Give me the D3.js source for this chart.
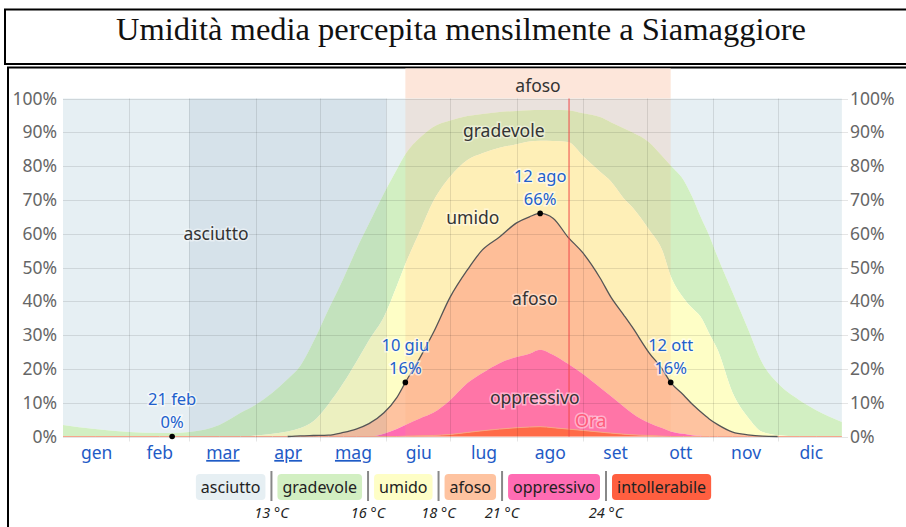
<!DOCTYPE html>
<html>
<head>
<meta charset="utf-8">
<script src="https://cdn.jsdelivr.net/npm/d3@7"></script>
<style>
  html, body { margin: 0; padding: 0; background: #fff; }
  svg { display: block; font-family: "Noto Sans", "Open Sans", sans-serif; }
</style>
</head>
<body>
<svg id="chart" width="906" height="527"></svg>
<script>
// ---- Calendar ----
const months = ["gen", "feb", "mar", "apr", "mag", "giu", "lug", "ago", "set", "ott", "nov", "dic"];
const monthStartDay = [0, 31, 59, 90, 120, 151, 181, 212, 243, 273, 304, 334, 365];
const linkedMonths = ["mar", "apr", "mag"];

// ---- Daily probability of each perceived-humidity class (%) ----
const days = [0, 15, 31, 45, 51, 59, 73, 83, 90, 98, 105, 111, 117, 124, 131, 137, 143, 150, 156, 160, 167, 173, 181, 189, 196, 204, 212, 218, 223, 229, 236, 243, 251, 256, 262, 266, 274, 280, 284, 290, 294, 298, 302, 306, 313, 320, 327, 334, 344, 352, 364];
const intollerabile = [0, 0, 0, 0, 0, 0, 0, 0, 0, 0, 0, 0, 0, 0, 0, 0, 0, 0, 0, 0.1, 0.2, 0.3, 0.6, 1.2, 1.7, 2.2, 2.6, 2.8, 2.9, 2.6, 2.2, 1.8, 1.3, 1.0, 0.7, 0.5, 0.3, 0.1, 0, 0, 0, 0, 0, 0, 0, 0, 0, 0, 0, 0, 0];
const oppressivo    = [0, 0, 0, 0, 0, 0, 0, 0, 0, 0, 0, 0, 0, 0, 0, 0, 0, 0.8, 2.2, 3.3, 5.2, 6.7, 10.2, 14.6, 17.1, 19.5, 20.9, 21.7, 22.8, 21.6, 19.3, 16.7, 13.2, 11.0, 8.2, 6.4, 3.7, 2.4, 1.5, 0.8, 0.4, 0.2, 0, 0, 0, 0, 0, 0, 0, 0, 0];
const afoso         = [0, 0, 0, 0, 0, 0, 0, 0, 0, 0, 0, 0.2, 0.3, 0.4, 1.2, 2.2, 3.8, 6.2, 9.3, 12.6, 18.1, 23.6, 30.5, 33.5, 36.4, 37.3, 39.7, 40.5, 40.3, 40.4, 37.5, 35.8, 32.4, 29.3, 27.1, 25.5, 20.7, 17.5, 14.5, 11.5, 9.2, 7.1, 5.2, 3.5, 1.3, 0.5, 0.1, 0, 0, 0, 0];
const umido         = [0, 0, 0, 0, 0, 0, 0, 0, 0.3, 0.8, 1.5, 2.3, 4.2, 9.1, 14.6, 19.8, 24.7, 28.4, 33.0, 35.0, 37.5, 38.9, 35.6, 32.5, 28.6, 26.4, 23.3, 22.3, 21.5, 22.8, 28.1, 28.7, 31.4, 34.2, 34.5, 35.5, 36.4, 35.2, 31.5, 28.7, 28.4, 28.1, 25.3, 22.1, 11.6, 5.3, 1.2, 0.4, 0.1, 0, 0];
const gradevole     = [3.4, 2.2, 1.3, 1.0, 1.0, 1.3, 3.4, 7.0, 9.1, 12.2, 15.5, 18.5, 23.5, 28.0, 30.9, 33.2, 34.5, 36.6, 34.5, 32.5, 27.5, 22.1, 16.6, 13.0, 11.6, 10.6, 9.8, 9.2, 9.1, 9.2, 9.4, 12.6, 16.2, 17.5, 20.7, 22.1, 25.9, 27.8, 32.7, 34.9, 33.0, 29.6, 29.0, 27.4, 29.6, 26.2, 20.2, 15.4, 10.7, 7.8, 4.3];
const asciutto      = [96.6, 97.8, 98.7, 99.0, 99.0, 98.7, 96.6, 93.0, 90.6, 87.0, 83.0, 79.0, 72.0, 62.5, 53.3, 44.8, 37.0, 28.0, 21.0, 16.5, 11.5, 8.4, 6.5, 5.2, 4.6, 4.0, 3.7, 3.5, 3.4, 3.4, 3.5, 4.4, 5.5, 7.0, 8.8, 10.0, 13.0, 17.0, 19.8, 24.1, 29.0, 35.0, 40.5, 47.0, 57.5, 68.0, 78.5, 84.2, 89.2, 92.2, 95.7];

// Stack order (bottom to top) and legend order
const stackKeys = ["intollerabile", "oppressivo", "afoso", "umido", "gradevole", "asciutto"];
const legendKeys = ["asciutto", "gradevole", "umido", "afoso", "oppressivo", "intollerabile"];
const legendThresholds = ["13 °C", "16 °C", "18 °C", "21 °C", "24 °C"];
const colors = {
  asciutto: "#e6eff3",
  gradevole: "#d2efc2",
  umido: "#fefec6",
  afoso: "#fec3a0",
  oppressivo: "#ff6cb3",
  intollerabile: "#ff5f40"
};
const series = { intollerabile, oppressivo, afoso, umido, gradevole, asciutto };

// Annotated dates: muggy-or-worse share
const markerLabels = ["21 feb", "10 giu", "12 ago", "12 ott"];
const markerDays = [51, 160, 223, 284];
const markerValues = [0, 16, 66, 16];

// Muggy season (between the 16% crossings) and the current date
const seasonLabel = "afoso";
const seasonStartDay = 160;
const seasonEndDay = 284;
const nowDay = 236.5;
const nowLabel = "Ora";

// Region labels: [text, day, percent]
const regionLabels = [
  ["asciutto", 71.5, 60.3],
  ["gradevole", 206, 90.7],
  ["umido", 191.5, 65],
  ["afoso", 220.5, 41],
  ["oppressivo", 220.5, 11.8]
];

const yTicks = [0, 10, 20, 30, 40, 50, 60, 70, 80, 90, 100];
const title = "Umidità media percepita mensilmente a Siamaggiore";

// ---- Layout ----
const svg = d3.select("#chart");
const plot = { left: 63, right: 844, top: 98.5, bottom: 436.5 };
const x = d3.scaleLinear().domain([0, 365]).range([plot.left, plot.right]);
const y = d3.scaleLinear().domain([0, 100]).range([plot.bottom, plot.top]);

// Title box
svg.append("rect")
  .attr("x", 5).attr("y", 9.5).attr("width", 905).attr("height", 54.5)
  .attr("fill", "#fff").attr("stroke", "#000").attr("stroke-width", 2);
const titleText = svg.append("text")
  .attr("x", 0).attr("y", 0)
  .attr("text-anchor", "middle")
  .attr("font-family", "'Liberation Serif', 'DejaVu Serif', serif")
  .attr("font-size", 32)
  .attr("fill", "#111")
  .text(title);
const tLen = titleText.node().getComputedTextLength();
titleText.attr("transform", `translate(461,40) scale(${690 / tLen},1)`);

// Chart box
svg.append("rect")
  .attr("x", 8).attr("y", 67.5).attr("width", 905).attr("height", 480)
  .attr("fill", "#fff").attr("stroke", "#000").attr("stroke-width", 2);

// Season header band
svg.append("rect")
  .attr("x", x(seasonStartDay)).attr("y", 68.5)
  .attr("width", x(seasonEndDay) - x(seasonStartDay)).attr("height", plot.top - 68.5)
  .attr("fill", "#fde6da");
svg.append("text")
  .attr("x", (x(seasonStartDay) + x(seasonEndDay)) / 2).attr("y", 85)
  .attr("text-anchor", "middle").attr("dominant-baseline", "central")
  .attr("font-size", 17.5).attr("fill", "#333")
  .text(seasonLabel);

// Stacked areas
const rows = days.map((d, i) => {
  const r = { day: d };
  stackKeys.forEach(k => r[k] = series[k][i]);
  return r;
});
const stacked = d3.stack().keys(stackKeys)(rows);
const area = d3.area()
  .x(d => x(d.data.day))
  .y0(d => y(d[0]))
  .y1(d => y(Math.min(100, d[1])))
  .curve(d3.curveMonotoneX);

svg.append("g").selectAll("path")
  .data(stacked.slice().reverse())
  .join("path")
  .attr("d", area)
  .attr("fill", d => colors[d.key]);

// Thin edge on top of the lowest class
const topLine = d3.line()
  .x(d => x(d.data.day))
  .y(d => y(d[1]))
  .curve(d3.curveMonotoneX);
svg.append("path")
  .attr("d", topLine(stacked[0]))
  .attr("fill", "none").attr("stroke", "#f6a58c").attr("stroke-width", 1);

// Highlighted months (mar–mag)
svg.append("rect")
  .attr("x", x(monthStartDay[2])).attr("y", plot.top)
  .attr("width", x(monthStartDay[5]) - x(monthStartDay[2]))
  .attr("height", plot.bottom - plot.top)
  .attr("fill", "rgb(50,95,140)").attr("fill-opacity", 0.085);

// Muggy season tint over the plot
svg.append("rect")
  .attr("x", x(seasonStartDay)).attr("y", plot.top)
  .attr("width", x(seasonEndDay) - x(seasonStartDay))
  .attr("height", plot.bottom - plot.top)
  .attr("fill", "rgb(255,165,115)").attr("fill-opacity", 0.17);

// Grid
const grid = svg.append("g").attr("stroke", "#000").attr("stroke-opacity", 0.1).attr("stroke-width", 1);
grid.selectAll("line.h")
  .data(yTicks)
  .join("line")
  .attr("class", "h")
  .attr("x1", plot.left).attr("x2", plot.right + 4)
  .attr("y1", d => Math.round(y(d)) + 0.5).attr("y2", d => Math.round(y(d)) + 0.5);
grid.selectAll("line.v")
  .data(monthStartDay.slice(1, 12))
  .join("line")
  .attr("class", "v")
  .attr("x1", d => Math.round(x(d)) + 0.5).attr("x2", d => Math.round(x(d)) + 0.5)
  .attr("y1", plot.top).attr("y2", plot.bottom + 5);

// Muggy-or-worse cumulative line
const cumRows = stacked[2];
let first = cumRows.findIndex(d => d[1] > 0);
let last = cumRows.length - 1 - cumRows.slice().reverse().findIndex(d => d[1] > 0);
first = Math.max(0, first - 1);
last = Math.min(cumRows.length - 1, last + 1);
svg.append("path")
  .attr("d", topLine(cumRows.slice(first, last + 1)))
  .attr("fill", "none").attr("stroke", "#555").attr("stroke-width", 1.3);

// Current date
svg.append("line")
  .attr("x1", x(nowDay)).attr("x2", x(nowDay))
  .attr("y1", plot.top).attr("y2", plot.bottom)
  .attr("stroke", "#f04848").attr("stroke-width", 1);
svg.append("text")
  .attr("x", x(nowDay) + 6).attr("y", 427)
  .attr("font-size", 18).attr("fill", "#ff5b7a")
  .attr("stroke", "#fff").attr("stroke-opacity", 0.45).attr("stroke-width", 3)
  .attr("paint-order", "stroke")
  .text(nowLabel);

// Region labels
svg.append("g").selectAll("text")
  .data(regionLabels)
  .join("text")
  .attr("x", d => x(d[1])).attr("y", d => y(d[2]))
  .attr("text-anchor", "middle").attr("dominant-baseline", "central")
  .attr("font-size", 17.5).attr("fill", "#333")
  .attr("stroke", "#fff").attr("stroke-opacity", 0.45).attr("stroke-width", 3)
  .attr("paint-order", "stroke")
  .text(d => d[0]);

// Annotated points
const gMarks = svg.append("g");
markerDays.forEach((d, i) => {
  const px = x(d), py = y(markerValues[i]);
  const lab = gMarks.append("g")
    .attr("font-size", 16.5).attr("fill", "#2160cc").attr("text-anchor", "middle")
    .attr("stroke", "#fff").attr("stroke-opacity", 0.6).attr("stroke-width", 3)
    .attr("paint-order", "stroke");
  lab.append("text").attr("x", px).attr("y", py - 31.5).text(markerLabels[i]);
  lab.append("text").attr("x", px).attr("y", py - 8.5).text(markerValues[i] + "%");
  gMarks.append("circle").attr("cx", px).attr("cy", py).attr("r", 2.8).attr("fill", "#000");
});

// Y axes (both sides)
const yFmt = d => d + "%";
const yLeft = svg.append("g")
  .attr("transform", `translate(${plot.left},0)`)
  .call(d3.axisLeft(y).tickValues(yTicks).tickFormat(yFmt).tickSize(0).tickPadding(6));
const yRight = svg.append("g")
  .attr("transform", `translate(${plot.right + 4},0)`)
  .call(d3.axisRight(y).tickValues(yTicks).tickFormat(yFmt).tickSize(0).tickPadding(2));
[yLeft, yRight].forEach(g => {
  g.select(".domain").remove();
  g.selectAll("text")
    .attr("font-family", "'Noto Sans', sans-serif")
    .attr("font-size", 17.5).attr("fill", "#666");
});

// Month labels
const xAxis = svg.append("g")
  .attr("transform", `translate(0,${plot.bottom})`)
  .call(d3.axisBottom(x)
    .tickValues(months.map((m, i) => (monthStartDay[i] + monthStartDay[i + 1]) / 2))
    .tickFormat((d, i) => months[i])
    .tickSize(0).tickPadding(10));
xAxis.select(".domain").remove();
xAxis.selectAll("text")
  .attr("font-family", "'Noto Sans', sans-serif")
  .attr("font-size", 17.5).attr("fill", "#1f5bc6")
  .attr("text-decoration", (d, i) => linkedMonths.includes(months[i]) ? "underline" : null);

// Legend
const legend = svg.append("g").attr("font-size", 16);
const padX = 5, gap = 5, boxH = 26, boxY = 474;
let cx = 0;
const boxes = [];
legendKeys.forEach((k, i) => {
  const t = legend.append("text")
    .attr("y", boxY + boxH / 2).attr("dominant-baseline", "central")
    .attr("fill", "#222").text(k);
  const w = t.node().getComputedTextLength() + padX * 2;
  boxes.push({ k, t, x: cx, w });
  cx += w;
  if (i < legendKeys.length - 1) cx += gap * 2 + 2;
});
const legendStart = 453.5 - cx / 2;
boxes.forEach((b, i) => {
  legend.insert("rect", "text")
    .attr("x", legendStart + b.x).attr("y", boxY)
    .attr("width", b.w).attr("height", boxH).attr("rx", 4)
    .attr("fill", colors[b.k]);
  b.t.attr("x", legendStart + b.x + padX);
  if (i < boxes.length - 1) {
    const sx = legendStart + b.x + b.w + gap + 1;
    legend.append("line")
      .attr("x1", sx).attr("x2", sx).attr("y1", boxY - 3).attr("y2", boxY + boxH + 1)
      .attr("stroke", "#888").attr("stroke-width", 2);
    legend.append("text")
      .attr("x", sx).attr("y", 518)
      .attr("text-anchor", "middle").attr("font-size", 14.5).attr("font-style", "italic")
      .attr("fill", "#222")
      .text(legendThresholds[i]);
  }
});
</script>
</body>
</html>
